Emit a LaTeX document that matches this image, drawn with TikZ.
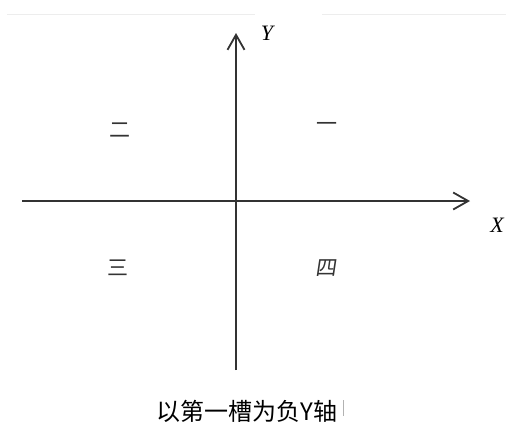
\documentclass[tikz,border=0pt]{standalone}
\usepackage{fontspec}
\setmainfont{Liberation Serif}
\newfontfamily\cjk{Noto Sans CJK SC}
\usetikzlibrary{arrows.meta}
\definecolor{axisgray}{HTML}{333333}
\tikzset{
  axis/.style={draw=axisgray, line width=2pt, -{Straight Barb[length=15pt,width=17pt,line width=1.8pt]}},
  qlabel/.style={font=\cjk\fontsize{21}{21}\selectfont, text=black!80},
  axlabel/.style={font=\itshape\fontsize{22}{22}\selectfont},
  caption/.style={font=\cjk\fontsize{24}{24}\selectfont}
}
\begin{document}
\begin{tikzpicture}[x=1pt,y=-1pt]
\useasboundingbox (0,0) rectangle (506,432);
\fill[white] (0,0) rectangle (506,432);
\draw[black!7, line width=0.8pt] (7,14) -- (255,14);
\draw[black!7, line width=0.8pt] (322,14) -- (506,14);
\coordinate (xs) at (22,201);
\coordinate (xe) at (470,201);
\coordinate (ys) at (236,370);
\coordinate (ye) at (236,33);
\draw[axis] (xs) -- (xe);
\draw[axis] (ys) -- (ye);
\node[axlabel] (Y) at (267,33) {Y};
\node[axlabel] (X) at (497,225) {X};
\node[qlabel] (q1) at (327,127) {一};
\node[qlabel] (q2) at (120,130) {二};
\node[qlabel] (q3) at (118,268) {三};
\node[qlabel, xslant=0.15] (q4) at (327,268) {四};
\node[caption] (cap) at (247,411) {以第一槽为负Y轴};
\draw[black!30, line width=0.8pt] (343,400) -- (343,416);
\end{tikzpicture}
\end{document}
